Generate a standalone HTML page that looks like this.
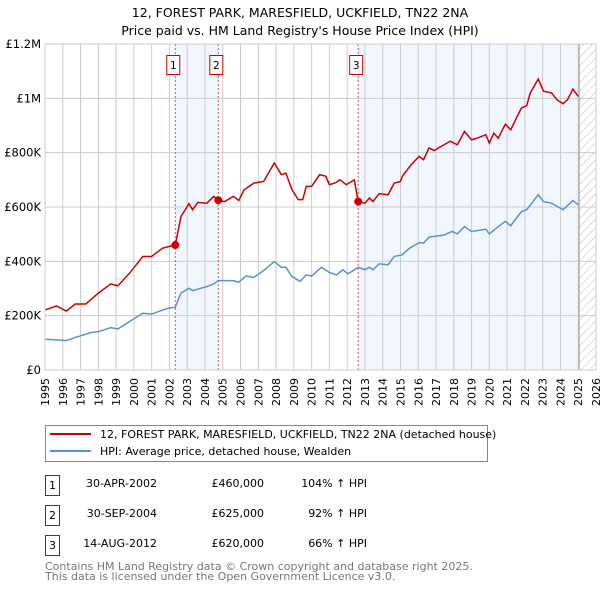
<!DOCTYPE html>
<html><head><meta charset="utf-8"><style>
body{margin:0;background:#fff;font-family:"Liberation Sans","DejaVu Sans",sans-serif;}
svg text{font-family:"DejaVu Sans","Liberation Sans",sans-serif;}
</style></head><body>
<svg width="600" height="590" viewBox="0 0 600 590" xmlns="http://www.w3.org/2000/svg">
<defs><pattern id="hatch" width="6" height="6" patternUnits="userSpaceOnUse" patternTransform="rotate(45)"><line x1="0" y1="0" x2="0" y2="6" stroke="#bbb" stroke-width="1"/></pattern></defs>
<text x="300" y="17" text-anchor="middle" font-size="12.5" fill="#000">12, FOREST PARK, MARESFIELD, UCKFIELD, TN22 2NA</text>
<text x="300" y="35" text-anchor="middle" font-size="12.5" fill="#000">Price paid vs. HM Land Registry's House Price Index (HPI)</text>
<g id="plot"></g>
<g>
<rect x="45.5" y="425.5" width="442" height="36" fill="#fff" stroke="#888"/>
<line x1="50" y1="434" x2="91" y2="434" stroke="#cc0000" stroke-width="2"/>
<text x="100" y="438" font-size="11">12, FOREST PARK, MARESFIELD, UCKFIELD, TN22 2NA (detached house)</text>
<line x1="50" y1="451" x2="91" y2="451" stroke="#5b8fd6" stroke-width="2"/>
<text x="100" y="455" font-size="11">HPI: Average price, detached house, Wealden</text>
</g>
<g font-size="11">
<rect x="45.5" y="475.5" width="14" height="20" fill="#fff" stroke="#cc0000"/><text x="52.5" y="489" text-anchor="middle">1</text>
<text x="157" y="487" text-anchor="end">30-APR-2002</text><text x="264" y="487" text-anchor="end">£460,000</text><text x="367" y="487" text-anchor="end">104% ↑ HPI</text>
<rect x="45.5" y="505.5" width="14" height="20" fill="#fff" stroke="#cc0000"/><text x="52.5" y="519" text-anchor="middle">2</text>
<text x="157" y="517" text-anchor="end">30-SEP-2004</text><text x="264" y="517" text-anchor="end">£625,000</text><text x="367" y="517" text-anchor="end">92% ↑ HPI</text>
<rect x="45.5" y="535.5" width="14" height="20" fill="#fff" stroke="#cc0000"/><text x="52.5" y="549" text-anchor="middle">3</text>
<text x="157" y="547" text-anchor="end">14-AUG-2012</text><text x="264" y="547" text-anchor="end">£620,000</text><text x="367" y="547" text-anchor="end">66% ↑ HPI</text>
</g>
<text x="45" y="570" font-size="11" fill="#777">Contains HM Land Registry data © Crown copyright and database right 2025.</text>
<text x="45" y="580" font-size="11" fill="#777">This data is licensed under the Open Government Licence v3.0.</text>
</svg>
<script>
const redYears=[1995.0,1995.65,1996.2,1996.7,1997.3,1998.0,1998.7,1999.1,1999.75,2000.5,2001.0,2001.6,2002.0,2002.33,2002.65,2003.1,2003.3,2003.6,2004.1,2004.5,2004.75,2005.1,2005.6,2005.9,2006.2,2006.75,2007.3,2007.9,2008.3,2008.55,2008.9,2009.25,2009.5,2009.7,2010.0,2010.45,2010.8,2011.0,2011.3,2011.6,2011.95,2012.4,2012.62,2013.0,2013.25,2013.45,2013.8,2014.3,2014.65,2015.0,2015.1,2015.6,2016.05,2016.3,2016.6,2016.9,2017.45,2017.8,2018.2,2018.6,2019.0,2019.3,2019.8,2020.0,2020.25,2020.5,2020.9,2021.2,2021.8,2022.1,2022.3,2022.75,2023.05,2023.5,2023.8,2024.15,2024.4,2024.7,2025.0];
const redValues=[221,236,217,243,243,283,317,310,356,418,418,448,455,460,565,612,590,617,614,639,625,620,639,624,663,688,694,762,719,725,663,627,627,676,676,719,713,682,688,700,682,700,620,614,633,620,649,645,688,694,713,756,786,774,817,808,829,842,829,878,847,853,866,835,872,853,905,884,964,973,1020,1071,1026,1020,995,980,995,1034,1007];
const hpiYears=[1995.0,1995.85,1996.2,1996.7,1997.6,1998.0,1998.7,1999.1,1999.75,2000.5,2001.0,2001.9,2002.33,2002.65,2003.1,2003.3,2004.1,2004.5,2004.75,2005.6,2005.9,2006.3,2006.75,2007.3,2007.9,2008.3,2008.55,2008.9,2009.35,2009.7,2010.0,2010.55,2011.0,2011.4,2011.75,2012.05,2012.62,2013.0,2013.25,2013.45,2013.8,2014.3,2014.65,2015.1,2015.5,2016.05,2016.3,2016.6,2017.45,2017.9,2018.2,2018.6,2019.0,2019.8,2020.0,2020.5,2020.9,2021.2,2021.8,2022.1,2022.75,2023.05,2023.5,2024.15,2024.7,2025.0];
const hpiValues=[113,110,108,120,138,141,156,151,178,209,206,227,231,283,301,292,307,317,329,329,323,346,341,366,399,378,378,344,326,350,346,378,359,350,369,354,378,369,378,369,391,387,418,424,448,469,467,489,497,510,501,528,510,518,501,528,547,531,583,590,645,620,614,590,624,608];
const saleYears=[2002.33,2004.75,2012.62];
const saleValues=[460,625,620];
const saleLabels=["1","2","3"];
const yTicks=[0,200,400,600,800,1000,1200];
const yTickLabels=["£0","£200K","£400K","£600K","£800K","£1M","£1.2M"];
const xTicks=[];for(let y=1995;y<=2026;y++)xTicks.push(y);

const NS="http://www.w3.org/2000/svg";
const L=45,R=596,T=44,B=370,X0=1995,X1=2026,YMAX=1200;
const xs=v=>L+(v-X0)/(X1-X0)*(R-L);
const ys=v=>B-v/YMAX*(B-T);
const g=document.getElementById('plot');
function mk(tag,attrs,parent){const e=document.createElementNS(NS,tag);for(const k in attrs)e.setAttribute(k,attrs[k]);(parent||g).appendChild(e);return e;}
const bg=mk('rect',{x:L,y:T,width:R-L,height:B-T,fill:'#fff'});


const s1=mk('rect',{x:xs(saleYears[0]),y:T,width:xs(saleYears[1])-xs(saleYears[0]),height:B-T,fill:'#eef3fd',opacity:0.75});


const s2=mk('rect',{x:xs(saleYears[2]),y:T,width:xs(2025.0)-xs(saleYears[2]),height:B-T,fill:'#eef3fd',opacity:0.75});


const hat=mk('rect',{x:xs(2025.05),y:T,width:R-xs(2025.05),height:B-T,fill:'url(#hatch)'});


xTicks.forEach(y=>{const l=mk('line',{x1:xs(y),x2:xs(y),y1:T,y2:B,stroke:'#ccc','stroke-width':1});


const t=mk('text',{x:0,y:0,'font-size':11,'text-anchor':'end',transform:`translate(${xs(y)+4},${B+8}) rotate(-90)`});t.textContent=y;

});
yTicks.forEach((v,i)=>{const l=mk('line',{x1:L,x2:R,y1:ys(v),y2:ys(v),stroke:'#ccc','stroke-width':1});


const t=mk('text',{x:L-4,y:ys(v)+4,'font-size':11.5,'text-anchor':'end'});t.textContent=yTickLabels[i];

});
const endLine=mk('line',{x1:xs(2025.05),x2:xs(2025.05),y1:T,y2:B,stroke:'#999','stroke-width':1});


saleYears.forEach((y,i)=>{const l=mk('line',{x1:xs(y),x2:xs(y),y1:T,y2:B,stroke:'#e05050','stroke-width':1,'stroke-dasharray':'2,2'});


const r=mk('rect',{x:xs(y)-8.5,y:55.5,width:13,height:19,fill:'#fff',stroke:'#cc0000'});


const t=mk('text',{x:xs(y)-2,y:69,'font-size':10.5,'text-anchor':'middle'});t.textContent=saleLabels[i];

});
const hp=mk('polyline',{points:hpiYears.map((y,i)=>xs(y)+','+ys(hpiValues[i])).join(' '),fill:'none',stroke:'#5b8fd6','stroke-width':1.5});


const rp=mk('polyline',{points:redYears.map((y,i)=>xs(y)+','+ys(redValues[i])).join(' '),fill:'none',stroke:'#cc0000','stroke-width':1.5});


saleYears.forEach((y,i)=>{const c=mk('circle',{cx:xs(y),cy:ys(saleValues[i]),r:4,fill:'#cc0000'});

});
const fr=mk('rect',{x:L,y:T,width:R-L,height:B-T,fill:'none',stroke:'#ccc'});


</script>
</body></html>
